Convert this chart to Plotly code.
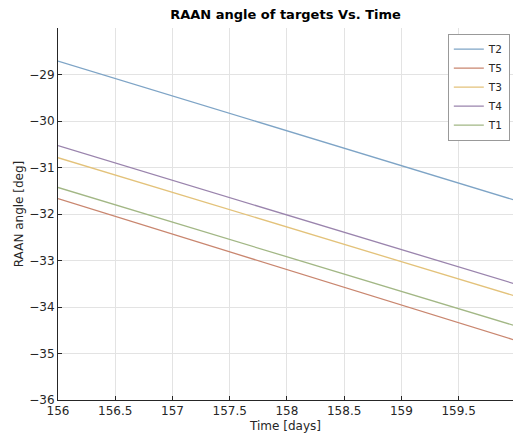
import plotly.graph_objects as go

# Data
time_days = [156.0, 160.0]
series_names = ["T2", "T5", "T3", "T4", "T1"]
T2 = [-28.71, -31.71]
T5 = [-31.67, -34.72]
T3 = [-30.79, -33.77]
T4 = [-30.53, -33.51]
T1 = [-31.43, -34.41]
series_values = [T2, T5, T3, T4, T1]
colors = ["#7ea4c6", "#c9866f", "#e3c27a", "#9a84ad", "#a2b785"]

x_ticks = [156, 156.5, 157, 157.5, 158, 158.5, 159, 159.5]
y_ticks = [-36, -35, -34, -33, -32, -31, -30, -29]

fig = go.Figure()
for name, vals, c in zip(series_names, series_values, colors):
    fig.add_trace(go.Scatter(x=time_days, y=vals, mode="lines", name=name,
                             line=dict(color=c, width=1.3)))

font = "DejaVu Sans, Arial, sans-serif"
fig.update_layout(
    width=513, height=439,
    margin=dict(l=58, r=0, t=28, b=39),
    paper_bgcolor="white", plot_bgcolor="white",
    font=dict(family=font, size=12, color="#262626"),
    title=dict(text="<b>RAAN angle of targets Vs. Time</b>", x=0.5, xref="paper",
               xanchor="center", y=1 - 14 / 439, yanchor="middle",
               font=dict(size=13, color="#000000", family=font)),
    showlegend=True,
    legend=dict(x=0.993, y=0.985, xanchor="right", yanchor="top",
                bgcolor="white", bordercolor="#999999", borderwidth=1,
                font=dict(size=10.5, color="#262626"),
                itemwidth=30, tracegroupgap=0),
)
fig.update_xaxes(range=[156, 159.975], tickvals=x_ticks,
                 ticktext=[str(v) for v in x_ticks],
                 showgrid=True, gridcolor="#e3e3e3", gridwidth=1,
                 showline=True, linecolor="#262626", linewidth=1,
                 ticks="inside", ticklen=4, tickcolor="#262626",
                 zeroline=False, title=dict(text="Time [days]", standoff=4,
                                             font=dict(size=12)))
fig.update_yaxes(range=[-36, -28], tickvals=y_ticks,
                 showgrid=True, gridcolor="#e3e3e3", gridwidth=1,
                 showline=True, linecolor="#262626", linewidth=1,
                 ticks="inside", ticklen=4, tickcolor="#262626",
                 zeroline=False, title=dict(text="RAAN angle [deg]", standoff=3,
                                             font=dict(size=12)))

fig.write_html("out.html")
